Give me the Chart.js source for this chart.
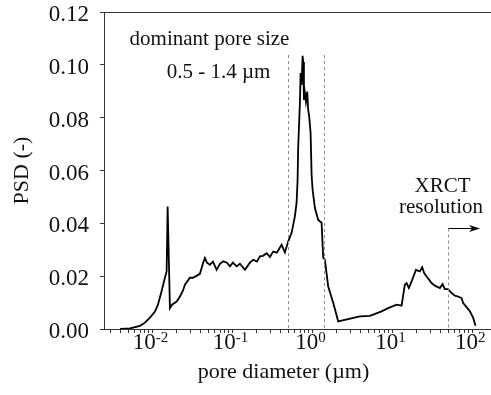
<!DOCTYPE html>
<html>
<head>
<meta charset="utf-8">
<title>Pore size distribution</title>
<script src="https://cdn.jsdelivr.net/npm/chart.js@4.4.1/dist/chart.umd.min.js"></script>
<style>
    html, body { margin: 0; padding: 0; background: #fff; }
    canvas { display: block; }
</style>
</head>
<body>
<canvas id="psdChart" width="491" height="395"></canvas>
<script>
// ============================================
// DATA
// ============================================

// pore diameter in um
const poreDiameter = [
    0.00393, 0.00523, 0.00698, 0.00806, 0.00931, 0.01075, 0.01172, 0.01296, 0.01373, 0.01433,
    0.01505, 0.01549, 0.01655, 0.01754, 0.02007, 0.02208, 0.02406, 0.02548, 0.02942, 0.03206,
    0.03597, 0.03925, 0.04317, 0.04533, 0.04800, 0.05236, 0.05708, 0.06346, 0.06982, 0.07674,
    0.08534, 0.09308, 0.1015, 0.1129, 0.1241, 0.1433, 0.1655, 0.1820, 0.2024, 0.2208,
    0.2406, 0.2677, 0.2944, 0.3236, 0.3597, 0.4121, 0.4529, 0.4983, 0.5495, 0.6039,
    0.6346, 0.6531, 0.6645, 0.6982, 0.7120, 0.7328, 0.7544, 0.7674, 0.7834, 0.8054,
    0.8299, 0.8610, 0.8861, 0.9120, 0.9495, 0.9772, 1.0058, 1.0740, 1.1816, 1.3032,
    1.3646, 1.4322, 1.5761, 1.8197, 2.101, 3.926, 5.236, 7.328, 8.861, 11.29,
    13.03, 14.32, 15.05, 16.07, 17.38, 19.68, 22.08, 23.59, 24.98, 26.77,
    28.84, 30.90, 33.96, 39.26, 42.41, 45.29, 49.83, 54.95, 60.39, 66.46,
    73.28, 76.74, 84.63, 93.11, 102.4, 109.6
];

// PSD (-)
const psdValues = [
    0.0000, 0.0002, 0.0012, 0.0024, 0.0043, 0.0066, 0.0092, 0.0141, 0.0171, 0.0194,
    0.0218, 0.0464, 0.0079, 0.0092, 0.0104, 0.0123, 0.0145, 0.0168, 0.0194, 0.0194,
    0.0202, 0.0209, 0.0252, 0.0269, 0.0251, 0.0243, 0.0255, 0.0224, 0.0247, 0.0256,
    0.0251, 0.0237, 0.0251, 0.0237, 0.0247, 0.0224, 0.0251, 0.0262, 0.0255, 0.0275,
    0.0277, 0.0287, 0.0273, 0.0293, 0.0289, 0.0319, 0.0290, 0.0331, 0.0364, 0.0426,
    0.0478, 0.0565, 0.0691, 0.0856, 0.0969, 0.0924, 0.1034, 0.1011, 0.0867, 0.0894,
    0.0861, 0.0899, 0.0829, 0.0804, 0.0742, 0.0584, 0.0527, 0.0459, 0.0413, 0.0402,
    0.0270, 0.0262, 0.0161, 0.0099, 0.0029, 0.0048, 0.0050, 0.0067, 0.0079, 0.0092,
    0.0088, 0.0168, 0.0174, 0.0155, 0.0180, 0.0224, 0.0218, 0.0234, 0.0212, 0.0199,
    0.0186, 0.0174, 0.0164, 0.0155, 0.0170, 0.0151, 0.0151, 0.0136, 0.0126, 0.0123,
    0.0117, 0.0098, 0.0083, 0.0067, 0.0042, 0.0012
];

// axis ticks
const yTicks = [0, 0.02, 0.04, 0.06, 0.08, 0.10, 0.12];
const xDecades = [0.01, 0.1, 1, 10, 100];
const xDecadeExponents = ['-2', '-1', '0', '1', '2'];

// annotations
const dominantRange = [0.5, 1.4];
const dominantTop = 0.1037;
const xrctResolution = 50;
const xrctLineTop = 0.0383;
const xrctArrowEnd = 125;

const X_MIN = 0.00248;
const X_MAX = 171;

const SERIF = "'Liberation Serif', 'DejaVu Serif', serif";
const AXIS_COLOR = '#333';

// ============================================
// TICK GENERATION
// ============================================

function logTicks() {
    const ticks = [];
    for (let e = -3; e <= 2; e++) {
        for (let m = 1; m <= 9; m++) {
            const v = m * Math.pow(10, e);
            if (v >= X_MIN && v <= X_MAX) ticks.push({ value: v, major: m === 1 });
        }
    }
    return ticks;
}

// ============================================
// ANNOTATION PLUGIN
// ============================================

const annotationPlugin = {
    id: 'psdAnnotations',
    afterDraw(chart) {
        const ctx = chart.ctx;
        const area = chart.chartArea;
        const xs = chart.scales.x;
        const ys = chart.scales.y;

        ctx.save();

        // top frame line
        ctx.strokeStyle = AXIS_COLOR;
        ctx.lineWidth = 1;
        ctx.beginPath();
        ctx.moveTo(area.left, Math.round(area.top) + 0.5);
        ctx.lineTo(area.right, Math.round(area.top) + 0.5);
        ctx.stroke();

        // dashed guide lines
        ctx.strokeStyle = '#8a8a8a';
        ctx.setLineDash([3, 3]);
        dominantRange.forEach(v => {
            const px = Math.round(xs.getPixelForValue(v)) + 0.5;
            ctx.beginPath();
            ctx.moveTo(px, ys.getPixelForValue(dominantTop));
            ctx.lineTo(px, area.bottom);
            ctx.stroke();
        });
        const rx = Math.round(xs.getPixelForValue(xrctResolution)) + 0.5;
        const ry = Math.round(ys.getPixelForValue(xrctLineTop)) + 0.5;
        ctx.beginPath();
        ctx.moveTo(rx, ry);
        ctx.lineTo(rx, area.bottom);
        ctx.stroke();
        ctx.setLineDash([]);

        // resolution arrow
        const ax = xs.getPixelForValue(xrctArrowEnd);
        ctx.strokeStyle = '#000';
        ctx.fillStyle = '#000';
        ctx.lineWidth = 1;
        ctx.beginPath();
        ctx.moveTo(rx, ry);
        ctx.lineTo(ax - 6, ry);
        ctx.stroke();
        ctx.beginPath();
        ctx.moveTo(ax, ry);
        ctx.lineTo(ax - 11, ry - 3.5);
        ctx.lineTo(ax - 8, ry);
        ctx.lineTo(ax - 11, ry + 3.5);
        ctx.closePath();
        ctx.fill();

        // annotation text
        ctx.fillStyle = '#111';
        ctx.textAlign = 'center';
        ctx.textBaseline = 'alphabetic';
        ctx.font = '21px ' + SERIF;
        ctx.fillText('dominant pore size', 209.5, 45);
        ctx.fillText('0.5 - 1.4 µm', 218.5, 78);
        ctx.fillText('XRCT', 442.5, 192);
        ctx.fillText('resolution', 441, 213);

        // x tick labels with superscript exponents
        xDecades.forEach((v, i) => {
            const px = xs.getPixelForValue(v) - 2;
            ctx.font = '23px ' + SERIF;
            const baseW = ctx.measureText('10').width;
            ctx.font = '15px ' + SERIF;
            const expW = ctx.measureText(xDecadeExponents[i]).width;
            const left = px - (baseW + expW) / 2;
            ctx.textAlign = 'left';
            ctx.font = '23px ' + SERIF;
            ctx.fillText('10', left, area.bottom + 20);
            ctx.font = '15px ' + SERIF;
            ctx.fillText(xDecadeExponents[i], left + baseW, area.bottom + 13);
        });

        // axis titles
        ctx.font = '22px ' + SERIF;
        ctx.textAlign = 'center';
        ctx.fillText('pore diameter (µm)', 283.5, 378);
        ctx.translate(28, (area.top + area.bottom) / 2);
        ctx.rotate(-Math.PI / 2);
        ctx.fillText('PSD (-)', 0, 0);

        ctx.restore();
    }
};

// ============================================
// CHART
// ============================================

const points = poreDiameter.map((d, i) => ({ x: d, y: psdValues[i] }));

new Chart(document.getElementById('psdChart'), {
    type: 'line',
    data: {
        datasets: [{
            data: points,
            borderColor: '#000',
            borderWidth: 1.8,
            pointRadius: 0,
            tension: 0,
            fill: false
        }]
    },
    options: {
        responsive: false,
        animation: false,
        layout: { padding: 0 },
        plugins: {
            legend: { display: false },
            tooltip: { enabled: false }
        },
        scales: {
            x: {
                type: 'logarithmic',
                min: X_MIN,
                max: X_MAX,
                afterBuildTicks: scale => { scale.ticks = logTicks(); },
                afterFit: scale => { scale.height = 66; },
                border: { display: true, color: AXIS_COLOR, width: 1 },
                grid: {
                    drawOnChartArea: false,
                    drawTicks: true,
                    tickLength: 4,
                    tickColor: AXIS_COLOR
                },
                ticks: { display: false }
            },
            y: {
                min: 0,
                max: 0.12,
                afterBuildTicks: scale => { scale.ticks = yTicks.map(v => ({ value: v })); },
                afterFit: scale => {
                    scale.width = 104;
                    // keep the plot top at 12px
                    scale.paddingTop = 12;
                    scale.paddingBottom = 0;
                },
                border: { display: true, color: AXIS_COLOR, width: 1 },
                grid: {
                    drawOnChartArea: false,
                    drawTicks: true,
                    tickLength: 4,
                    tickColor: AXIS_COLOR
                },
                ticks: {
                    padding: 11,
                    labelOffset: 3,
                    color: '#111',
                    font: { family: SERIF, size: 23, lineHeight: 1.05 },
                    callback: v => v.toFixed(2)
                }
            }
        }
    },
    plugins: [annotationPlugin]
});
</script>
</body>
</html>
